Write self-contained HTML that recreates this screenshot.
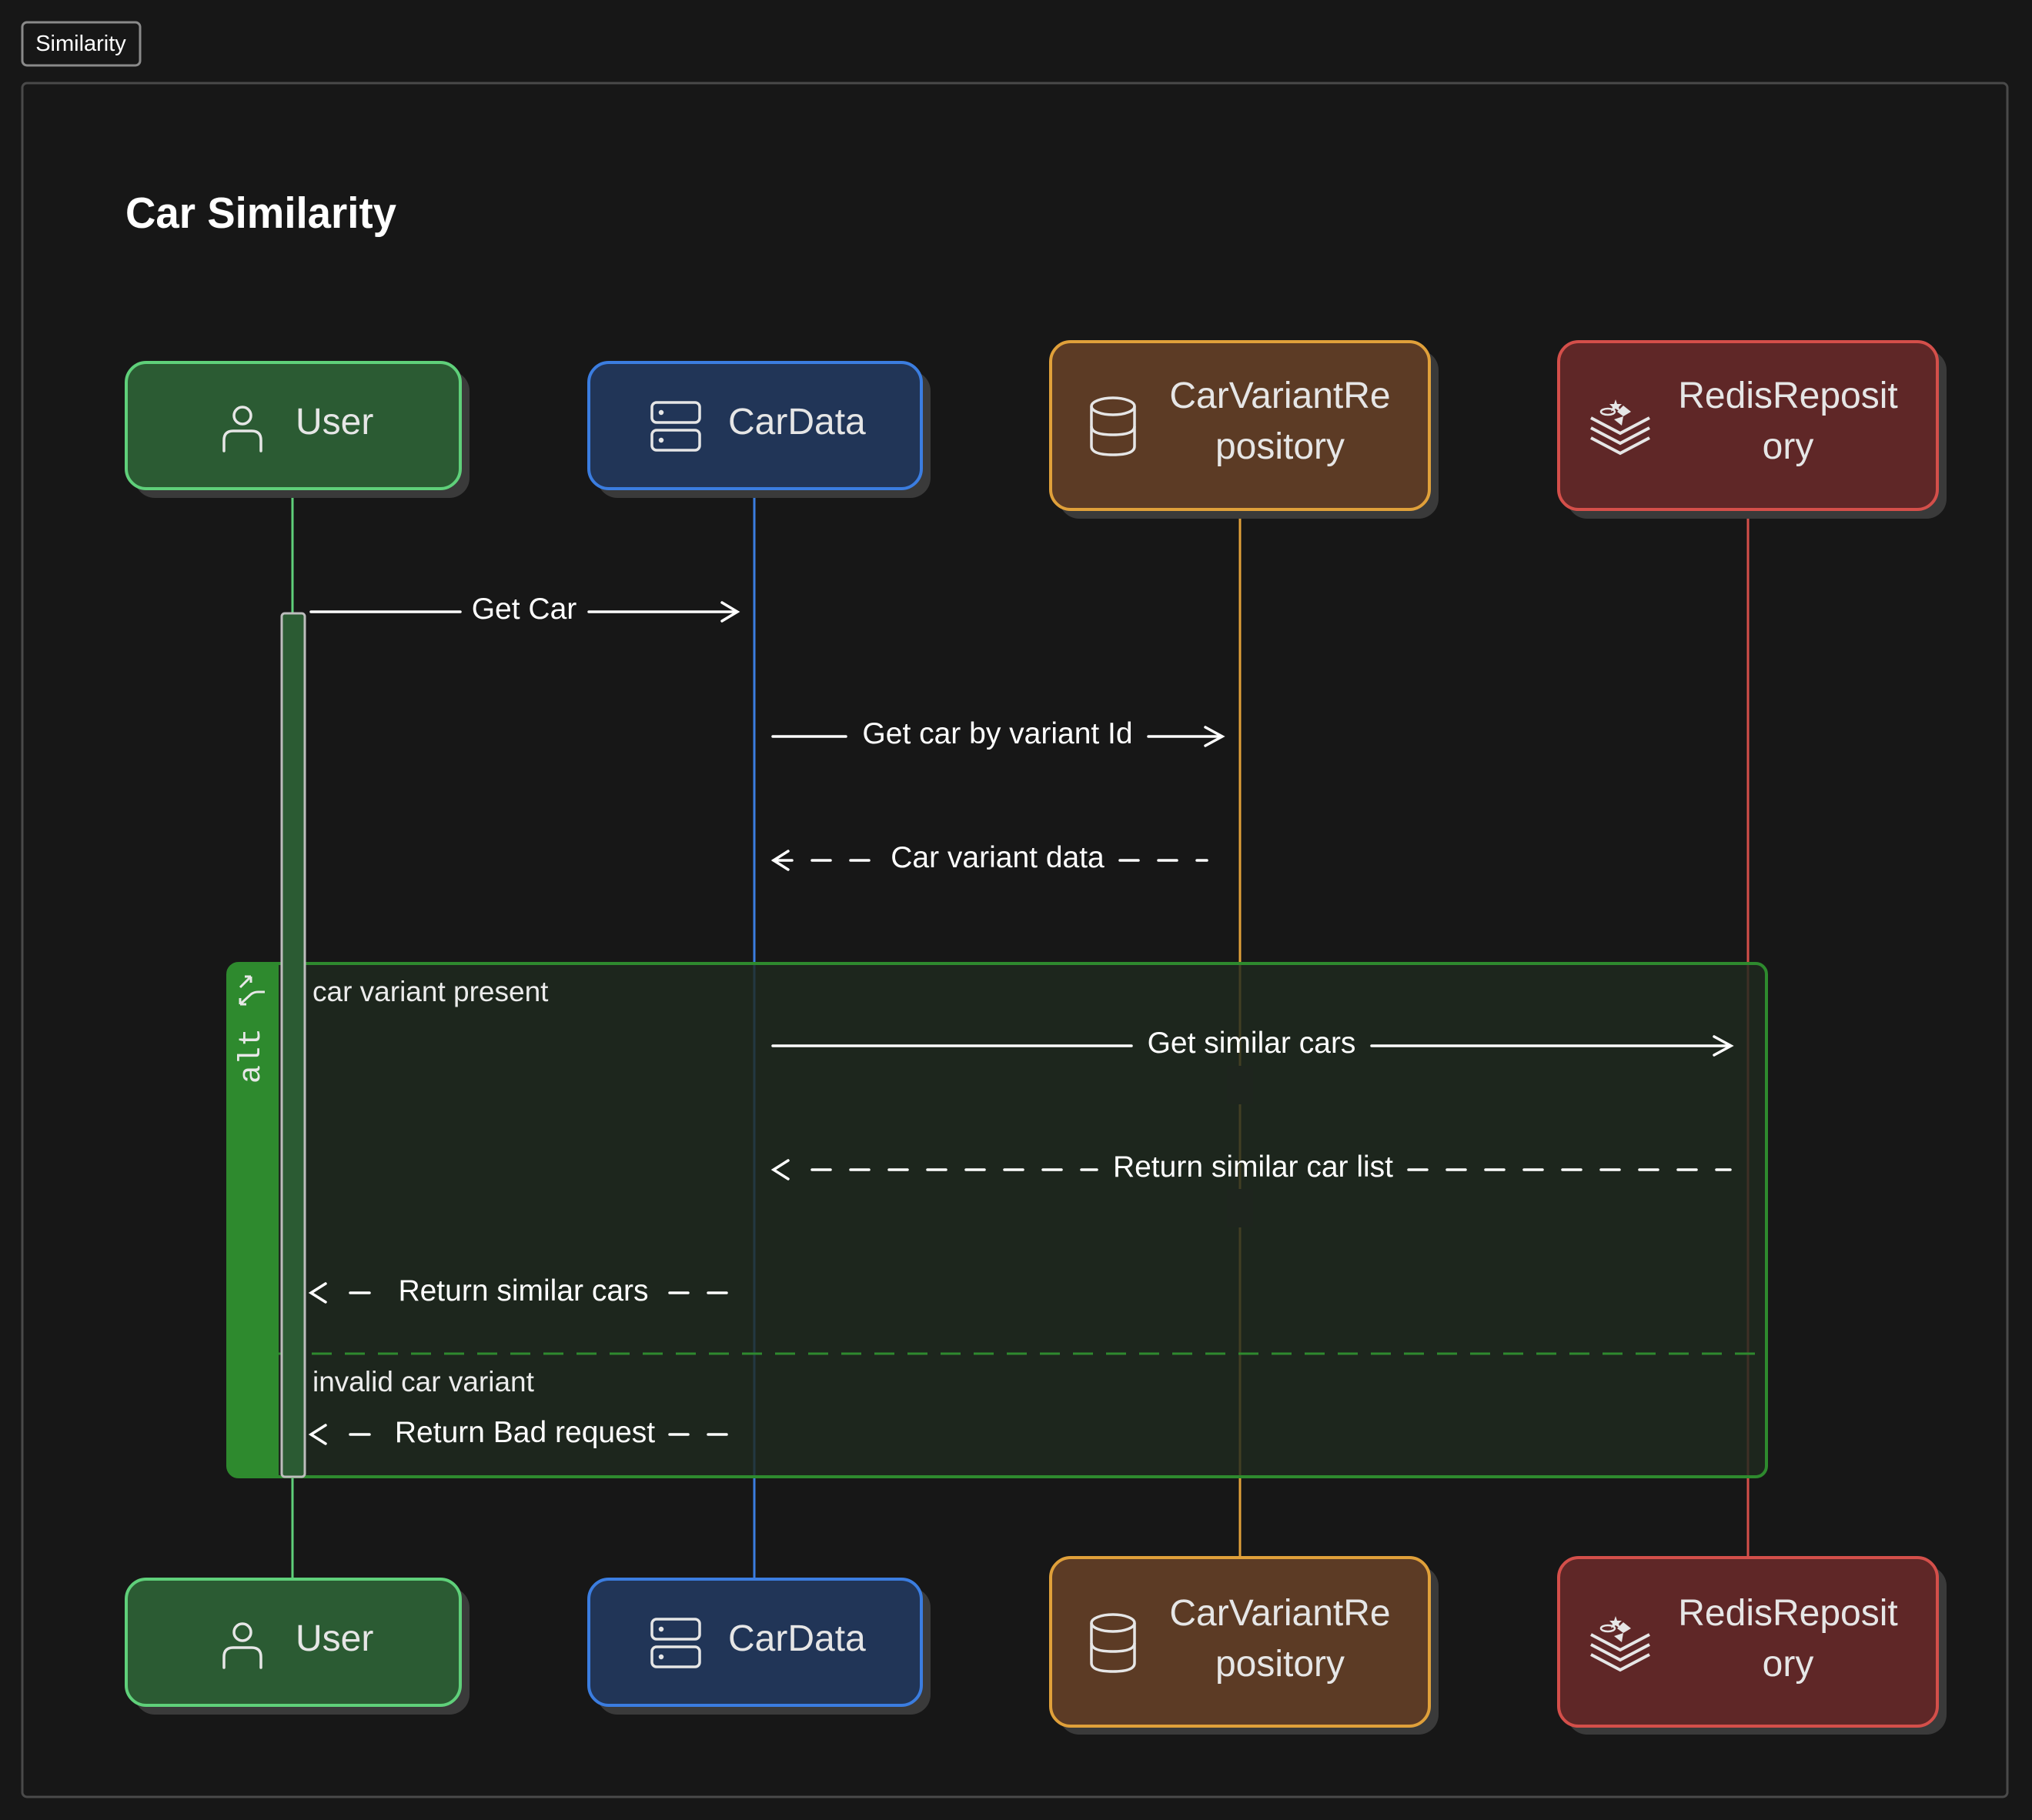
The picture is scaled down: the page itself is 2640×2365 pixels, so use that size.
<!DOCTYPE html>
<html><head><meta charset="utf-8"><style>
html,body{margin:0;padding:0;background:#171717;}
svg{display:block;}
text{font-family:"Liberation Sans",Arial,sans-serif;}
</style></head><body>
<svg width="2640" height="2365" viewBox="0 0 2640 2365" xmlns="http://www.w3.org/2000/svg">
<rect x="0" y="0" width="2640" height="2365" fill="#171717"/>
<!-- tag -->
<rect x="29" y="29" width="153" height="56" rx="6" fill="#171717" stroke="#8a8a8a" stroke-width="3"/>
<text x="105" y="66" font-size="29" fill="#ffffff" text-anchor="middle">Similarity</text>
<!-- frame -->
<rect x="29" y="108" width="2579" height="2227" rx="6" fill="#171717" stroke="#4a4a4a" stroke-width="3"/>
<text x="163" y="296" font-size="57" font-weight="bold" fill="#ffffff" textLength="352" lengthAdjust="spacingAndGlyphs">Car Similarity</text>

<!-- lifelines -->
<line x1="380" y1="635" x2="380" y2="2052" stroke="#5fd07a" stroke-width="3"/>
<line x1="980" y1="635" x2="980" y2="2052" stroke="#3b7de0" stroke-width="3"/>
<line x1="1611" y1="662" x2="1611" y2="2024" stroke="#e0a03a" stroke-width="3"/>
<line x1="2271" y1="662" x2="2271" y2="2024" stroke="#d44f4a" stroke-width="3"/>

<!-- alt box -->
<rect x="296" y="1252" width="1999" height="667" rx="14" fill="#1f2a1f" fill-opacity="0.82" stroke="#2e8a2e" stroke-width="4"/>
<path d="M310,1252 H362 V1919 H310 Q296,1919 296,1905 V1266 Q296,1252 310,1252 Z" fill="#2e8a2e"/>
<line x1="362" y1="1759" x2="2295" y2="1759" stroke="#2e8a2e" stroke-width="3" stroke-dasharray="26 17"/>
<text transform="translate(337,1408) rotate(-90)" style="font-family:'Liberation Mono',monospace" font-size="40" fill="#e8e8e8">alt</text>
<g stroke="#e8e8e8" stroke-width="3" fill="none">
<path d="M312,1283 L326,1269 M326,1269 L318,1269 M326,1269 L326,1277"/>
<path d="M312,1305 L326,1292 Q330,1289 335,1289 L344,1289 M312,1305 L312,1297 M312,1305 L320,1305"/>
</g>
<text x="406" y="1301" font-size="37" fill="#ececec">car variant present</text>
<text x="406" y="1808" font-size="37" fill="#ececec">invalid car variant</text>

<!-- activation -->
<rect x="366" y="797" width="30" height="1122" rx="4" fill="#2b5b33" stroke="#bdbdbd" stroke-width="3"/>

<!-- messages -->
<g stroke="#ffffff" stroke-width="3.5" fill="none" stroke-linecap="round">
 <line x1="404" y1="795" x2="598" y2="795"/><line x1="765" y1="795" x2="956" y2="795"/>
 <path d="M938,783 L958,795 L938,807"/>
 <line x1="1004" y1="957" x2="1099" y2="957"/><line x1="1492" y1="957" x2="1586" y2="957"/>
 <path d="M1566,945 L1588,957 L1566,969"/>
 <path d="M1024,1106 L1005,1118 L1024,1130"/>
 <line x1="1005" y1="1118" x2="1130" y2="1118" stroke-dasharray="24 26" stroke-dashoffset="-50"/>
 <line x1="1455" y1="1118" x2="1568" y2="1118" stroke-dasharray="24 26"/>
 <line x1="1004" y1="1359" x2="1470" y2="1359"/><line x1="1782" y1="1359" x2="2247" y2="1359"/>
 <path d="M2227,1347 L2249,1359 L2227,1371"/>
 <path d="M1024,1508 L1005,1520 L1024,1532"/>
 <line x1="1055" y1="1520" x2="1425" y2="1520" stroke-dasharray="24 26"/>
 <line x1="1830" y1="1520" x2="2248" y2="1520" stroke-dasharray="24 26"/>
 <path d="M423,1668 L404,1680 L423,1692"/>
 <line x1="455" y1="1680" x2="480" y2="1680"/>
 <line x1="870" y1="1680" x2="944" y2="1680" stroke-dasharray="24 26"/>
 <path d="M423,1852 L404,1864 L423,1876"/>
 <line x1="455" y1="1864" x2="480" y2="1864"/>
 <line x1="870" y1="1864" x2="944" y2="1864" stroke-dasharray="24 26"/>
</g>
<g fill="#ffffff" font-size="39" text-anchor="middle">
 <text x="681" y="804">Get Car</text>
 <text x="1296" y="966">Get car by variant Id</text>
 <text x="1296" y="1127">Car variant data</text>
</g>
<rect x="1594" y="1385" width="34" height="50" fill="#1e251e"/>
<rect x="1594" y="1545" width="34" height="50" fill="#1e251e"/>
<g fill="#ffffff" font-size="39" text-anchor="middle">
 <text x="1626" y="1368">Get similar cars</text>
 <text x="1628" y="1529">Return similar car list</text>
 <text x="680" y="1690">Return similar cars</text>
 <text x="682" y="1874">Return Bad request</text>
</g>

<defs>
 <g id="userIcon" fill="none" stroke="#e6e6e6" stroke-width="3.5" stroke-linecap="round">
  <circle cx="0" cy="-14" r="11"/>
  <path d="M-24,32 V18 Q-24,6 -12,6 H12 Q24,6 24,18 V32"/>
 </g>
 <g id="serverIcon" fill="none" stroke="#e6e6e6" stroke-width="3.5">
  <rect x="-31" y="-29" width="62" height="26" rx="6"/>
  <rect x="-31" y="7" width="62" height="26" rx="6"/>
  <circle cx="-19" cy="-16" r="1.5" fill="#e6e6e6"/>
  <circle cx="-19" cy="20" r="1.5" fill="#e6e6e6"/>
 </g>
 <g id="dbIcon" fill="none" stroke="#e6e6e6" stroke-width="3.5">
  <ellipse cx="0" cy="-22" rx="28" ry="11"/>
  <path d="M-28,-22 V30 Q-28,41 0,41 Q28,41 28,30 V-22"/>
  <path d="M-28,4 Q-28,15 0,15 Q28,15 28,4"/>
 </g>
 <g id="redisIcon" fill="none" stroke="#e6e6e6" stroke-width="4">
  <path d="M-38,-12 L0,8 L38,-12"/>
  <path d="M-38,1 L0,21 L38,1"/>
  <path d="M-38,14 L0,34 L38,14"/>
  <ellipse cx="-16" cy="-20" rx="9" ry="4" stroke-width="2.5"/>
  <path d="M4,-28 L14,-20 L4,-14 L-4,-20 Z" fill="#e6e6e6" stroke="none"/>
  <path d="M-8,-10 L4,-14 L2,-2 Z" fill="#e6e6e6" stroke="none"/>
  <path d="M-6,-36 L-4,-30 L2,-30 L-2,-26 L0,-20 L-6,-24 L-12,-20 L-10,-26 L-14,-30 L-8,-30 Z" fill="#e6e6e6" stroke="none"/>
 </g>
</defs>

<g>
 <rect x="175" y="482" width="435" height="165" rx="26" fill="#3a3a3a"/>
 <rect x="164" y="471" width="434" height="164" rx="26" fill="#2b5b33" stroke="#5fd07a" stroke-width="4"/>
 <use href="#userIcon" x="315" y="554"/>
 <text x="384" y="564" font-size="48" fill="#e6e6e6">User</text>

 <rect x="776" y="482" width="433" height="165" rx="26" fill="#3a3a3a"/>
 <rect x="765" y="471" width="432" height="164" rx="26" fill="#213557" stroke="#3b7de0" stroke-width="4"/>
 <use href="#serverIcon" x="878" y="552"/>
 <text x="946" y="564" font-size="48" fill="#e6e6e6">CarData</text>

 <rect x="1376" y="455" width="493" height="219" rx="26" fill="#3a3a3a"/>
 <rect x="1365" y="444" width="492" height="218" rx="26" fill="#5c3b25" stroke="#e0a03a" stroke-width="4"/>
 <use href="#dbIcon" x="1446" y="550"/>
 <text x="1663" y="530" font-size="48" fill="#e6e6e6" text-anchor="middle">CarVariantRe</text>
 <text x="1663" y="596" font-size="48" fill="#e6e6e6" text-anchor="middle">pository</text>

 <rect x="2036" y="455" width="493" height="219" rx="26" fill="#3a3a3a"/>
 <rect x="2025" y="444" width="492" height="218" rx="26" fill="#5f2727" stroke="#d44f4a" stroke-width="4"/>
 <use href="#redisIcon" x="2105" y="555"/>
 <text x="2323" y="530" font-size="48" fill="#e6e6e6" text-anchor="middle">RedisReposit</text>
 <text x="2323" y="596" font-size="48" fill="#e6e6e6" text-anchor="middle">ory</text>
</g>

<g>
 <rect x="175" y="2063" width="435" height="165" rx="26" fill="#3a3a3a"/>
 <rect x="164" y="2052" width="434" height="164" rx="26" fill="#2b5b33" stroke="#5fd07a" stroke-width="4"/>
 <use href="#userIcon" x="315" y="2135"/>
 <text x="384" y="2145" font-size="48" fill="#e6e6e6">User</text>

 <rect x="776" y="2063" width="433" height="165" rx="26" fill="#3a3a3a"/>
 <rect x="765" y="2052" width="432" height="164" rx="26" fill="#213557" stroke="#3b7de0" stroke-width="4"/>
 <use href="#serverIcon" x="878" y="2133"/>
 <text x="946" y="2145" font-size="48" fill="#e6e6e6">CarData</text>

 <rect x="1376" y="2035" width="493" height="219" rx="26" fill="#3a3a3a"/>
 <rect x="1365" y="2024" width="492" height="219" rx="26" fill="#5c3b25" stroke="#e0a03a" stroke-width="4"/>
 <use href="#dbIcon" x="1446" y="2131"/>
 <text x="1663" y="2112" font-size="48" fill="#e6e6e6" text-anchor="middle">CarVariantRe</text>
 <text x="1663" y="2178" font-size="48" fill="#e6e6e6" text-anchor="middle">pository</text>

 <rect x="2036" y="2035" width="493" height="219" rx="26" fill="#3a3a3a"/>
 <rect x="2025" y="2024" width="492" height="219" rx="26" fill="#5f2727" stroke="#d44f4a" stroke-width="4"/>
 <use href="#redisIcon" x="2105" y="2136"/>
 <text x="2323" y="2112" font-size="48" fill="#e6e6e6" text-anchor="middle">RedisReposit</text>
 <text x="2323" y="2178" font-size="48" fill="#e6e6e6" text-anchor="middle">ory</text>
</g>
</svg>
</body></html>
